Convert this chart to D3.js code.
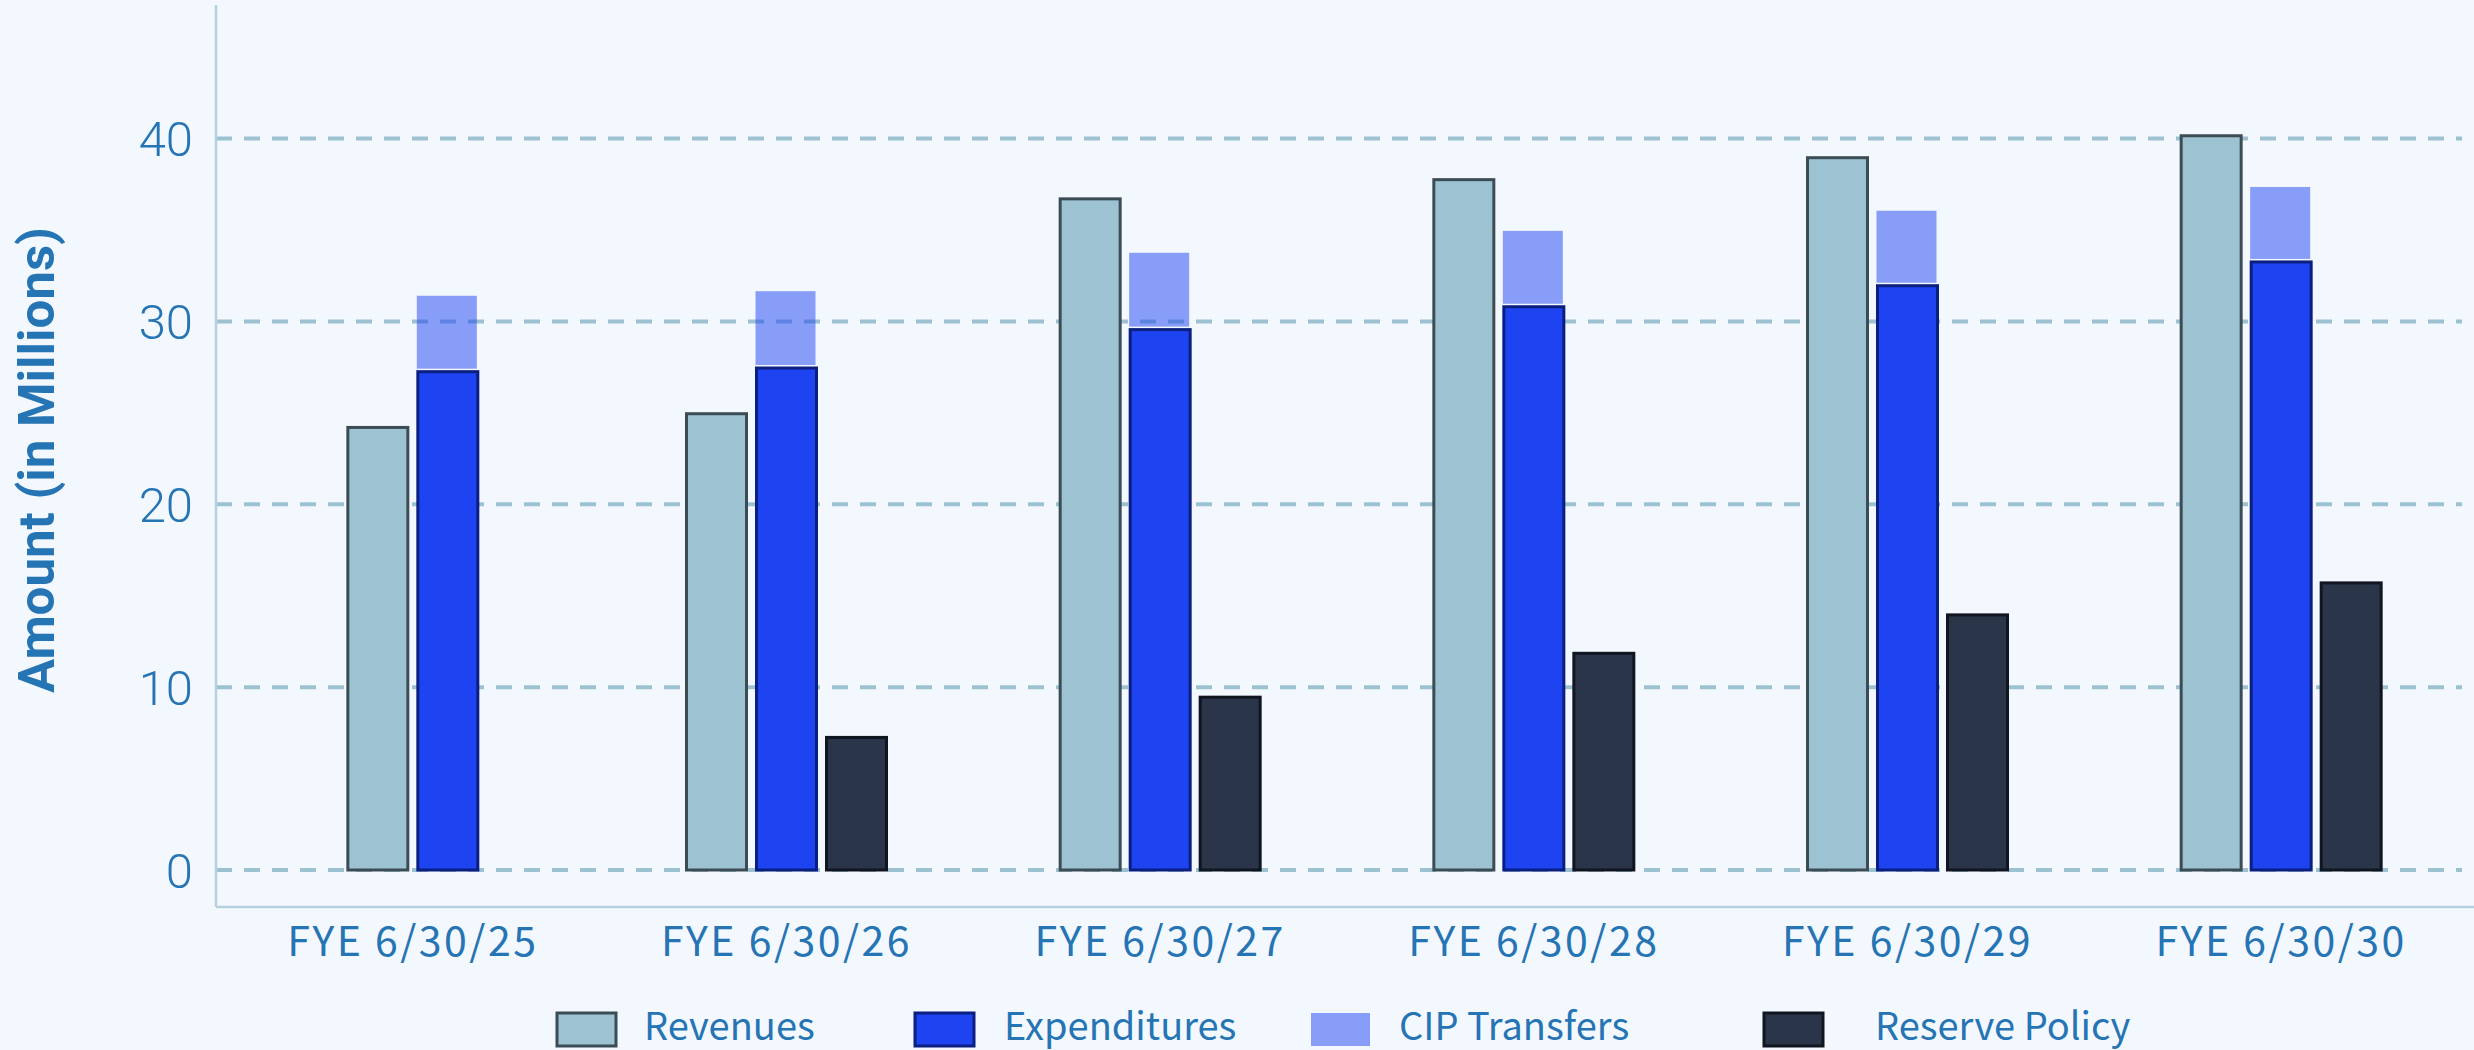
<!doctype html>
<html>
   <head>
      <meta charset="utf-8">
      <title>Revenues vs Expenditures</title>
      <script src="https://d3js.org/d3.v7.min.js"></script>
      <style>
         body { margin: 0; background: #f3f7fe; }
         svg { display: block; }
      </style>
   </head>
   <body>
      <div class="chart"></div>
      <script>
         var years = ["FYE 6/30/25", "FYE 6/30/26", "FYE 6/30/27", "FYE 6/30/28", "FYE 6/30/29", "FYE 6/30/30"];
         var revenues = [24.2, 24.95, 36.7, 37.75, 38.95, 40.15];
         var expenditures = [27.25, 27.45, 29.55, 30.8, 31.95, 33.25];
         var cipTransfers = [4.15, 4.2, 4.2, 4.15, 4.1, 4.1];
         var reservePolicy = [null, 7.25, 9.45, 11.85, 13.95, 15.7];
         var yTicks = [0, 10, 20, 30, 40];
         var legendNames = ["Revenues", "Expenditures", "CIP Transfers", "Reserve Policy"];

         var width = 2474;
         var height = 1050;
         var textColor = "#2574b3";
         var tickFont = "Roboto, 'DejaVu Sans', sans-serif";
         var labelFont = "'Noto Sans CJK JP', 'Noto Sans', sans-serif";

         var styles = {
            "Revenues": {fill: "#9dc3d2", stroke: "#3c4c55"},
            "Expenditures": {fill: "#1d44f0", stroke: "#0b1f80"},
            "CIP Transfers": {fill: "rgba(30,68,242,0.5)", stroke: "none"},
            "Reserve Policy": {fill: "#2a3549", stroke: "#10151f"}
         };

         var svg = d3.select(".chart").append("svg")
                     .attr("width", width)
                     .attr("height", height);

         svg.append("rect")
            .attr("width", width)
            .attr("height", height)
            .attr("fill", "#f3f7fe");

         var x = d3.scaleBand().domain(years).range([226, 2468]);
         var y = d3.scaleLinear().domain([0, 40]).range([870, 138.5]);

         // grid lines under the bars
         svg.append("g")
            .selectAll("line")
            .data(yTicks)
            .enter()
            .append("line")
            .attr("x1", 216)
            .attr("x2", 2462)
            .attr("y1", function(d){ return y(d); })
            .attr("y2", function(d){ return y(d); })
            .attr("stroke", "#9cc2d1")
            .attr("stroke-width", 4)
            .attr("stroke-dasharray", "16,12");

         // axis lines
         svg.append("line")
            .attr("x1", 216).attr("x2", 216)
            .attr("y1", 5).attr("y2", 907)
            .attr("stroke", "#b5d1dd").attr("stroke-width", 2.5);
         svg.append("line")
            .attr("x1", 216).attr("x2", width)
            .attr("y1", 907).attr("y2", 907)
            .attr("stroke", "#b5d1dd").attr("stroke-width", 2.5);

         // y tick labels
         svg.append("g")
            .selectAll("text")
            .data(yTicks)
            .enter()
            .append("text")
            .attr("x", 193)
            .attr("y", function(d){ return y(d); })
            .attr("dy", "0.36em")
            .attr("text-anchor", "end")
            .style("font-family", tickFont)
            .style("font-weight", 300)
            .style("font-size", "49px")
            .attr("fill", textColor)
            .text(function(d){ return d; });

         svg.append("text")
            .attr("transform", "translate(54," + 460 + ") rotate(-90)")
            .attr("text-anchor", "middle")
            .attr("textLength", 466)
            .attr("lengthAdjust", "spacingAndGlyphs")
            .style("font-family", tickFont)
            .style("font-weight", "bold")
            .style("font-size", "50px")
            .attr("fill", textColor)
            .text("Amount (in Millions)");

         // x labels
         svg.append("g")
            .selectAll("text")
            .data(years)
            .enter()
            .append("text")
            .attr("x", function(d){ return x(d) + x.bandwidth() / 2; })
            .attr("y", 956)
            .attr("text-anchor", "middle")
            .style("font-family", labelFont)
            .style("font-size", "41px")
            .style("letter-spacing", "2.5px")
            .attr("fill", textColor)
            .text(function(d){ return d; });

         // build bar list: bars present in a year are centred on the band
         var barW = 60, barStep = 70;
         var bars = [];
         var cips = [];
         years.forEach(function(yr, i){
            var present = [];
            present.push({name: "Revenues", value: revenues[i]});
            present.push({name: "Expenditures", value: expenditures[i]});
            if (reservePolicy[i] != null)
               present.push({name: "Reserve Policy", value: reservePolicy[i]});
            var center = x(yr) + x.bandwidth() / 2;
            var start = center - (present.length * barStep - (barStep - barW)) / 2;
            present.forEach(function(p, k){
               p.x = start + k * barStep;
               bars.push(p);
               if (p.name == "Expenditures")
                  cips.push({x: p.x, base: p.value, value: cipTransfers[i]});
            });
         });

         svg.append("g")
            .selectAll("rect")
            .data(bars)
            .enter()
            .append("rect")
            .attr("x", function(d){ return d.x; })
            .attr("y", function(d){ return y(d.value); })
            .attr("width", barW)
            .attr("height", function(d){ return y(0) - y(d.value); })
            .attr("fill", function(d){ return styles[d.name].fill; })
            .attr("stroke", function(d){ return styles[d.name].stroke; })
            .attr("stroke-width", 3);

         svg.append("g")
            .selectAll("rect")
            .data(cips)
            .enter()
            .append("rect")
            .attr("x", function(d){ return d.x - 1; })
            .attr("y", function(d){ return y(d.base + d.value); })
            .attr("width", barW)
            .attr("height", function(d){ return y(d.base) - y(d.base + d.value) - 3; })
            .attr("fill", styles["CIP Transfers"].fill);

         // legend
         var legendSwatchX = [557, 915, 1311, 1764];
         var legendTextX = [644, 1004, 1399, 1875];
         var legend = svg.append("g")
                         .selectAll("g")
                         .data(legendNames)
                         .enter()
                         .append("g");

         legend.append("rect")
               .attr("x", function(d, i){ return legendSwatchX[i]; })
               .attr("y", 1013)
               .attr("width", 59)
               .attr("height", 33)
               .attr("fill", function(d){ return styles[d].fill; })
               .attr("stroke", function(d){ return styles[d].stroke; })
               .attr("stroke-width", 3);

         legend.append("text")
               .attr("x", function(d, i){ return legendTextX[i]; })
               .attr("y", 1040)
               .style("font-family", labelFont)
               .style("font-size", "38px")
               .attr("fill", textColor)
               .text(function(d){ return d; });
      </script>
   </body>
</html>
